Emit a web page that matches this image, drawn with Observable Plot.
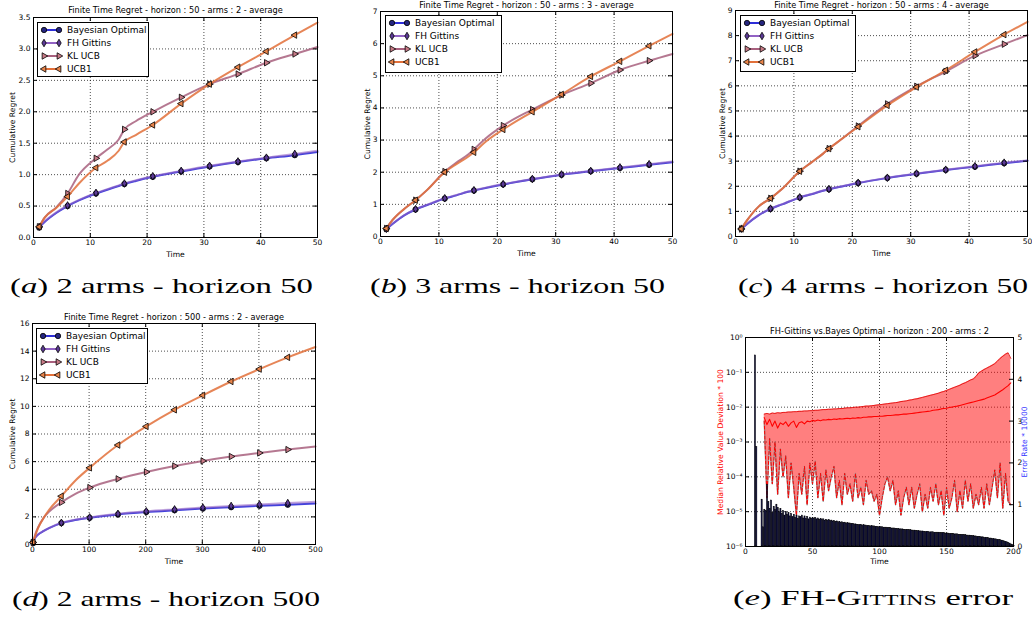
<!DOCTYPE html>
<html><head><meta charset="utf-8">
<script src="https://cdn.jsdelivr.net/npm/d3@7"></script>
<script src="https://cdn.jsdelivr.net/npm/@observablehq/plot@0.6"></script>
<style>
body{margin:0;background:#fff;}
#root{position:relative;width:1032px;height:620px;overflow:hidden;background:#fff;font-family:"DejaVu Sans";}
.panel{position:absolute;}
.cap{position:absolute;font-family:"Liberation Serif";font-size:22px;line-height:22px;color:#000;white-space:nowrap;transform-origin:0 0;}
.legend{position:absolute;border:1px solid #000;background:#fff;box-sizing:border-box;font-family:"DejaVu Sans";font-size:9px;color:#000;}
.legend .lab{position:absolute;left:29px;line-height:12px;white-space:nowrap;}
</style></head><body><div id="root"></div><script>
// ---------------- data ----------------
const names = ["Bayesian Optimal","FH Gittins","KL UCB","UCB1"];

const tShort = [1,2,4,6,8,11,13,15,16,18,21,26,31,36,41,46,50];
const markShort = [1,6,11,16,21,26,31,36,41,46];
const tLong = [1,5,10,20,30,51,75,101,151,201,251,301,351,401,451,500];
const markLong = [1,51,101,151,201,251,301,351,401,451];

// (a) 2 arms - horizon 50
const a_bayes = [0.16,0.25,0.39,0.50,0.59,0.70,0.76,0.82,0.85,0.90,0.965,1.05,1.13,1.20,1.26,1.31,1.36];
const a_fh    = [0.17,0.26,0.40,0.51,0.60,0.71,0.77,0.83,0.86,0.91,0.975,1.06,1.14,1.21,1.27,1.33,1.38];
const a_kl    = [0.17,0.32,0.48,0.70,1.00,1.26,1.40,1.56,1.72,1.85,2.00,2.23,2.44,2.60,2.78,2.92,3.03];
const a_ucb   = [0.17,0.32,0.47,0.65,0.86,1.11,1.22,1.38,1.52,1.63,1.79,2.13,2.44,2.71,2.96,3.22,3.42];
// (b) 3 arms - horizon 50
const b_bayes = [0.23,0.38,0.65,0.84,0.98,1.18,1.28,1.39,1.43,1.51,1.62,1.78,1.92,2.03,2.13,2.23,2.31];
const b_fh    = [0.24,0.39,0.66,0.85,0.99,1.19,1.29,1.40,1.44,1.52,1.63,1.79,1.93,2.04,2.15,2.25,2.33];
const b_kl    = [0.25,0.50,0.85,1.13,1.45,2.02,2.30,2.55,2.71,3.05,3.45,3.95,4.40,4.77,5.18,5.47,5.68];
const b_ucb   = [0.25,0.50,0.85,1.13,1.45,2.00,2.25,2.48,2.62,2.95,3.33,3.88,4.42,4.98,5.45,5.93,6.30];
// (c) 4 arms - horizon 50
const c_bayes = [0.30,0.50,0.85,1.10,1.28,1.55,1.68,1.82,1.88,1.98,2.13,2.33,2.50,2.65,2.78,2.92,3.02];
const c_fh    = [0.31,0.51,0.86,1.11,1.29,1.56,1.69,1.83,1.89,1.99,2.14,2.34,2.51,2.66,2.80,2.94,3.03];
const c_kl    = [0.30,0.65,1.20,1.52,1.90,2.60,2.95,3.30,3.50,3.85,4.40,5.28,5.98,6.57,7.20,7.66,8.02];
const c_ucb   = [0.30,0.65,1.20,1.52,1.90,2.60,2.95,3.30,3.50,3.85,4.37,5.22,5.95,6.62,7.35,8.04,8.55];
// (d) 2 arms - horizon 500
const d_bayes = [0.15,0.50,0.72,0.98,1.20,1.55,1.77,1.93,2.18,2.35,2.48,2.60,2.70,2.80,2.88,2.97];
const d_fh    = [0.15,0.50,0.73,0.99,1.21,1.57,1.80,1.96,2.22,2.40,2.54,2.67,2.79,2.90,3.00,3.09];
const d_kl    = [0.15,0.75,1.25,1.95,2.40,3.05,3.65,4.12,4.75,5.25,5.68,6.05,6.37,6.63,6.87,7.10];
const d_ucb   = [0.15,0.65,1.20,1.95,2.55,3.50,4.60,5.55,7.20,8.55,9.75,10.80,11.80,12.70,13.55,14.30];

// (e) FH-Gittins error, horizon 200 (log10 of deviation * 100), t = 14,16,...,198
const eTimes = d3.range(14, 199, 2);
const eUpperLog10 = [
 -2.20,-2.18,-2.20,-2.17,-2.18,-2.16,-2.17,-2.15,-2.15,-2.14,
 -2.14,-2.13,-2.13,-2.12,-2.12,-2.11,-2.11,-2.10,-2.10,-2.09,
 -2.09,-2.08,-2.07,-2.07,-2.06,-2.06,-2.05,-2.05,-2.04,-2.04,
 -2.03,-2.02,-2.02,-2.01,-2.00,-2.00,-1.99,-1.98,-1.97,-1.97,
 -1.96,-1.95,-1.94,-1.93,-1.92,-1.91,-1.90,-1.89,-1.88,-1.87,
 -1.86,-1.84,-1.83,-1.82,-1.80,-1.79,-1.77,-1.76,-1.74,-1.72,
 -1.70,-1.68,-1.66,-1.64,-1.62,-1.60,-1.57,-1.55,-1.52,-1.49,
 -1.46,-1.43,-1.40,-1.37,-1.33,-1.30,-1.26,-1.22,-1.19,-1.12,
 -1.02,-0.97,-0.92,-0.88,-0.84,-0.80,-0.75,-0.68,-0.60,-0.54,
 -0.48,-0.44,-0.60];
const eMedianLog10 = [
 -2.30,-2.50,-2.35,-2.55,-2.40,-2.60,-2.45,-2.50,-2.42,-2.55,
 -2.45,-2.40,-2.58,-2.45,-2.42,-2.48,-2.40,-2.42,-2.38,-2.40,
 -2.37,-2.39,-2.36,-2.37,-2.35,-2.36,-2.34,-2.35,-2.33,-2.34,
 -2.33,-2.32,-2.33,-2.31,-2.32,-2.30,-2.31,-2.29,-2.29,-2.28,
 -2.28,-2.27,-2.27,-2.26,-2.26,-2.25,-2.24,-2.24,-2.23,-2.22,
 -2.22,-2.21,-2.20,-2.20,-2.19,-2.18,-2.17,-2.16,-2.15,-2.14,
 -2.13,-2.12,-2.11,-2.09,-2.08,-2.07,-2.05,-2.04,-2.03,-2.01,
 -2.00,-1.98,-1.97,-1.95,-1.93,-1.91,-1.89,-1.87,-1.85,-1.83,
 -1.81,-1.79,-1.77,-1.74,-1.71,-1.68,-1.65,-1.60,-1.55,-1.50,
 -1.44,-1.38,-1.30];
const eLowerLog10 = [
 -2.40,-4.60,-2.90,-4.20,-3.00,-4.50,-3.20,-4.00,-3.40,-4.60,
 -3.60,-4.30,-5.10,-3.90,-4.50,-3.70,-4.80,-3.60,-4.20,-3.55,
 -4.60,-3.90,-4.70,-3.80,-4.40,-4.00,-3.70,-4.60,-4.10,-4.80,
 -3.90,-4.50,-4.20,-4.70,-3.90,-4.60,-4.30,-4.80,-4.10,-4.50,
 -4.40,-4.70,-4.50,-5.10,-4.60,-4.20,-4.00,-4.40,-4.10,-4.80,
 -4.40,-5.10,-4.60,-4.30,-4.80,-4.30,-4.90,-4.50,-4.20,-5.00,
 -4.50,-4.90,-4.30,-4.70,-4.20,-4.80,-4.40,-5.10,-4.30,-4.90,
 -4.60,-4.10,-5.00,-4.40,-4.90,-4.10,-4.70,-4.20,-4.90,-4.50,
 -4.80,-4.30,-4.90,-4.20,-4.80,-4.30,-3.80,-4.60,-3.60,-4.90,
 -3.90,-4.70,-4.80];
// error rate * 10000 for t = 1..200
const eErrorRate = [
 0,0,0,0,0,0,4.57,2.38,0,0,
 0,1.12,0.46,0.88,0.85,1.48,1.06,0.90,1.10,0.80,
 0.95,0.88,1.00,0.92,0.82,0.90,0.78,0.85,0.74,0.83,
 0.76,0.80,0.72,0.78,0.70,0.76,0.69,0.74,0.66,0.72,
 0.70,0.74,0.67,0.72,0.66,0.70,0.65,0.69,0.66,0.68,
 0.66,0.68,0.65,0.67,0.64,0.66,0.63,0.65,0.62,0.64,
 0.62,0.63,0.61,0.62,0.60,0.61,0.59,0.60,0.58,0.59,
 0.57,0.58,0.56,0.57,0.55,0.56,0.55,0.55,0.54,0.54,
 0.53,0.53,0.52,0.52,0.51,0.52,0.50,0.51,0.50,0.50,
 0.49,0.49,0.48,0.49,0.48,0.48,0.47,0.47,0.46,0.47,
 0.46,0.46,0.45,0.45,0.45,0.44,0.44,0.44,0.43,0.43,
 0.43,0.42,0.42,0.42,0.41,0.41,0.41,0.40,0.40,0.40,
 0.39,0.39,0.39,0.38,0.38,0.38,0.37,0.37,0.37,0.36,
 0.36,0.36,0.35,0.35,0.35,0.35,0.34,0.34,0.34,0.34,
 0.33,0.33,0.33,0.33,0.32,0.32,0.32,0.32,0.31,0.31,
 0.31,0.30,0.30,0.30,0.30,0.29,0.29,0.29,0.28,0.28,
 0.28,0.27,0.27,0.27,0.26,0.26,0.26,0.25,0.25,0.25,
 0.24,0.24,0.23,0.23,0.23,0.22,0.22,0.21,0.21,0.20,
 0.20,0.19,0.19,0.18,0.18,0.17,0.17,0.16,0.15,0.15,
 0.14,0.13,0.12,0.11,0.10,0.08,0.07,0.05,0.03,0.01];

// ---------------- styles ----------------
const lineColors = ["#2e2ed8","#9262c4","#a8607e","#e2703a"];
const lineOpacity = [0.9,0.6,0.85,0.85];
const markFills  = ["#25257e","#5c3a96","#c87a86","#e8844a"];
const symbolNames = ["circle","diamond","triangle","triangle"];
const symbolTypes = [d3.symbolCircle,d3.symbolDiamond,d3.symbolTriangle,d3.symbolTriangle];
const symbolRot = [0,0,90,-90];
const symbolR = [2.7,2.3,2.4,2.4];

const root = document.getElementById("root");
const baseStyle = {fontFamily:"DejaVu Sans",fontSize:"7.5px",color:"#000",background:"transparent",overflow:"visible"};

function place(node, left, top){
  node.classList.add("panel");
  node.style.position = "absolute";
  node.style.left = left + "px";
  node.style.top = top + "px";
  root.appendChild(node);
}

function innerTicks(xTicks, yTicks, W, H, side){
  const m = [
    Plot.ruleX(xTicks, {stroke:"#000", insetTop:H-4}),
    Plot.ruleX(xTicks, {stroke:"#000", insetBottom:H-4})
  ];
  if (side !== "right") m.push(Plot.ruleY(yTicks, {stroke:"#000", insetRight:W-4}));
  if (side !== "left") m.push(Plot.ruleY(yTicks, {stroke:"#000", insetLeft:W-4}));
  return m;
}

function regretPanel(c){
  const mL=40, mR=12, mT=16, mB=26;
  const W=c.R-c.L, H=c.B-c.T;
  const marks = [
    Plot.gridX({ticks:c.xTicks, stroke:"#000", strokeOpacity:1, strokeDasharray:"1,2", strokeWidth:0.7}),
    Plot.gridY({ticks:c.yTicks, stroke:"#000", strokeOpacity:1, strokeDasharray:"1,2", strokeWidth:0.7})
  ];
  c.values.forEach((vals, si) => {
    const rows = vals.map((v,i)=>({t:c.times[i], v}));
    marks.push(Plot.line(rows, {x:"t", y:"v", stroke:lineColors[si], strokeWidth:2, strokeOpacity:lineOpacity[si], curve:"monotone-x"}));
    marks.push(Plot.dot(rows.filter(d=>c.marks.includes(d.t)), {x:"t", y:"v", symbol:symbolNames[si], r:symbolR[si], rotate:symbolRot[si], fill:markFills[si], stroke:"#000", strokeWidth:0.8}));
  });
  marks.push(
    Plot.frame({stroke:"#000"}),
    ...innerTicks(c.xTicks, c.yTicks, W, H),
    Plot.axisX({ticks:c.xTicks, tickSize:0, tickPadding:2.5, label:null}),
    Plot.axisY({ticks:c.yTicks, tickSize:0, tickPadding:3, tickFormat:c.yFmt, label:null}),
    Plot.text([c.title], {frameAnchor:"top", dy:c.titleDy, fontSize:8.2, textAnchor:"middle", lineAnchor:"middle"}),
    Plot.text(["Cumulative Regret"], {frameAnchor:"left", dx:c.ylabDx, rotate:-90, fontSize:7.6, textAnchor:"middle", lineAnchor:"middle"}),
    Plot.text(["Time"], {frameAnchor:"bottom", dy:17, fontSize:7.6, textAnchor:"middle", lineAnchor:"middle"})
  );
  const p = Plot.plot({
    width:W+mL+mR, height:H+mT+mB, marginLeft:mL, marginRight:mR, marginTop:mT, marginBottom:mB,
    x:{domain:[0,c.xMax]}, y:{domain:[0,c.yMax]},
    style:baseStyle, marks
  });
  place(p, c.L-mL, c.T-mT);
  legend(c.legend);
}

function legend(box){
  const div = document.createElement("div");
  div.className = "legend";
  Object.assign(div.style, {left:box.x+"px", top:box.y+"px", width:box.w+"px", height:box.h+"px"});
  names.forEach((n,i)=>{
    const cy = 6.5 + i*13.3;
    const svg = d3.create("svg").attr("width",26).attr("height",12)
      .style("position","absolute").style("left","0px").style("top",(cy-6)+"px");
    svg.append("line").attr("x1",6).attr("x2",21).attr("y1",6).attr("y2",6)
      .attr("stroke",lineColors[i]).attr("stroke-width",2);
    [6,21].forEach(x=>svg.append("path")
      .attr("d", d3.symbol(symbolTypes[i], symbolR[i]*symbolR[i]*Math.PI)())
      .attr("transform", `translate(${x},6) rotate(${symbolRot[i]})`)
      .attr("fill", markFills[i]).attr("stroke","#000").attr("stroke-width",0.8));
    div.appendChild(svg.node());
    const lab = document.createElement("div");
    lab.className = "lab"; lab.textContent = n; lab.style.top = (cy-6)+"px";
    div.appendChild(lab);
  });
  root.appendChild(div);
}

const fmtInt = d3.format("d"), fmt1 = d3.format(".1f");
regretPanel({L:33,R:317,T:17,B:237,xMax:50,yMax:3.5,xTicks:[0,10,20,30,40,50],yTicks:[0,0.5,1,1.5,2,2.5,3,3.5],yFmt:fmt1,
  title:"Finite Time Regret - horizon : 50 - arms : 2 - average",titleDy:-7,ylabDx:-21,times:tShort,marks:markShort,
  values:[a_bayes,a_fh,a_kl,a_ucb],legend:{x:37,y:22,w:112,h:55}});
regretPanel({L:380,R:672,T:11,B:236,xMax:50,yMax:7,xTicks:[0,10,20,30,40,50],yTicks:[0,1,2,3,4,5,6,7],yFmt:fmtInt,
  title:"Finite Time Regret - horizon : 50 - arms : 3 - average",titleDy:-6,ylabDx:-13,times:tShort,marks:markShort,
  values:[b_bayes,b_fh,b_kl,b_ucb],legend:{x:385,y:15,w:117,h:58}});
regretPanel({L:735,R:1027,T:10,B:236,xMax:50,yMax:9,xTicks:[0,10,20,30,40,50],yTicks:[0,1,2,3,4,5,6,7,8,9],yFmt:fmtInt,
  title:"Finite Time Regret - horizon : 50 - arms : 4 - average",titleDy:-5.5,ylabDx:-13,times:tShort,marks:markShort,
  values:[c_bayes,c_fh,c_kl,c_ucb],legend:{x:740,y:15,w:116,h:57}});
regretPanel({L:32,R:315,T:323,B:544,xMax:500,yMax:16,xTicks:[0,100,200,300,400,500],yTicks:[0,2,4,6,8,10,12,14,16],yFmt:fmtInt,
  title:"Finite Time Regret - horizon : 500 - arms : 2 - average",titleDy:-6.5,ylabDx:-20,times:tLong,marks:markLong,
  values:[d_bayes,d_fh,d_kl,d_ucb],legend:{x:36,y:328,w:112,h:56}});

// ---------------- panel (e) ----------------
(function(){
  const L=745,R=1013,T=337,B=546, mL=45,mR=30,mT=16,mB=26;
  const W=R-L, H=B-T;
  const xTicks=[0,50,100,150,200];
  const logTicks=[1e-6,1e-5,1e-4,1e-3,1e-2,1e-1,1];
  const rTicks=[0,1,2,3,4,5];
  const sup={"-":"⁻","0":"⁰","1":"¹","2":"²","3":"³","4":"⁴","5":"⁵","6":"⁶"};
  const fmtPow = d => "10" + String(Math.round(Math.log10(d))).split("").map(ch=>sup[ch]).join("");
  const rows = eTimes.map((t,i)=>({t, hi:10**eUpperLog10[i], md:10**eMedianLog10[i], lo:10**eLowerLog10[i]}));
  const bars = eErrorRate.map((v,i)=>({t:i+1, v}));
  const common = {width:W+mL+mR, height:H+mT+mB, marginLeft:mL, marginRight:mR, marginTop:mT, marginBottom:mB, style:baseStyle};
  const p1 = Plot.plot({...common,
    x:{domain:[0,200]}, y:{type:"log", domain:[1e-6,1]},
    marks:[
      Plot.gridX({ticks:xTicks, stroke:"#000", strokeOpacity:1, strokeDasharray:"1,2", strokeWidth:0.7}),
      Plot.gridY({ticks:logTicks, stroke:"#000", strokeOpacity:1, strokeDasharray:"1,2", strokeWidth:0.7}),
      Plot.areaY(rows, {x:"t", y1:"lo", y2:"hi", fill:"#ff0000", fillOpacity:0.5}),
      Plot.line(rows, {x:"t", y:"hi", stroke:"#e00000", strokeWidth:0.8}),
      Plot.line(rows, {x:"t", y:"lo", stroke:"#909090", strokeWidth:1.4}),
      Plot.line(rows, {x:"t", y:"lo", stroke:"#ff0000", strokeWidth:1, strokeDasharray:"3,2"}),
      Plot.line(rows, {x:"t", y:"md", stroke:"#ff0000", strokeWidth:1.1}),
      Plot.axisX({ticks:xTicks, tickSize:0, tickPadding:2, label:null}),
      Plot.axisY({ticks:logTicks, tickSize:0, tickPadding:3, tickFormat:fmtPow, label:null}),
      ...innerTicks(xTicks, logTicks, W, H, "left"),
      Plot.text(["FH-Gittins vs.Bayes Optimal - horizon : 200 - arms : 2"], {frameAnchor:"top", dy:-6, fontSize:8.2, textAnchor:"middle", lineAnchor:"middle"}),
      Plot.text(["Median Relative Value Deviation * 100"], {frameAnchor:"left", dx:-25, rotate:-90, fontSize:7.6, fill:"#ff0000", textAnchor:"middle", lineAnchor:"middle"}),
      Plot.text(["Time"], {frameAnchor:"bottom", dy:15, fontSize:7.6, textAnchor:"middle", lineAnchor:"middle"})
    ]});
  place(p1, L-mL, T-mT);
  const p2 = Plot.plot({...common,
    x:{domain:[0,200], axis:null}, y:{domain:[0,5]},
    marks:[
      Plot.rectY(bars, {x1:"t", x2:d=>d.t+0.85, y:"v", fill:"#0c0c48", stroke:"#000", strokeWidth:0.5}),
      Plot.frame({stroke:"#000"}),
      Plot.ruleY(rTicks, {stroke:"#000", insetLeft:W-4}),
      Plot.axisY({anchor:"right", ticks:rTicks, tickSize:0, tickPadding:4, tickFormat:fmtInt, label:null}),
      Plot.text(["Error Rate * 10000"], {frameAnchor:"right", dx:11, rotate:-90, fontSize:7.6, fill:"#3333ff", textAnchor:"middle", lineAnchor:"middle"})
    ]});
  place(p2, L-mL, T-mT);
})();

// ---------------- captions ----------------
const captions = [
  {html:'(<i>a</i>) 2 arms - horizon 50', x0:10, x1:313, base:293},
  {html:'(<i>b</i>) 3 arms - horizon 50', x0:370, x1:665, base:293},
  {html:'(<i>c</i>) 4 arms - horizon 50', x0:738, x1:1028, base:293},
  {html:'(<i>d</i>) 2 arms - horizon 500', x0:12, x1:320, base:606},
  {html:'(<i>e</i>) FH-G<span style="font-variant:small-caps">ittins</span> error', x0:733, x1:1013, base:605}
];
captions.forEach(c=>{
  const d = document.createElement("div");
  d.className = "cap"; d.innerHTML = c.html;
  d.style.left = c.x0+"px"; d.style.top = (c.base-18.4)+"px";
  root.appendChild(d);
  const w = d.getBoundingClientRect().width;
  d.style.transform = `scaleX(${((c.x1 - c.x0) / w).toFixed(3)})`;
});
</script></body></html>
